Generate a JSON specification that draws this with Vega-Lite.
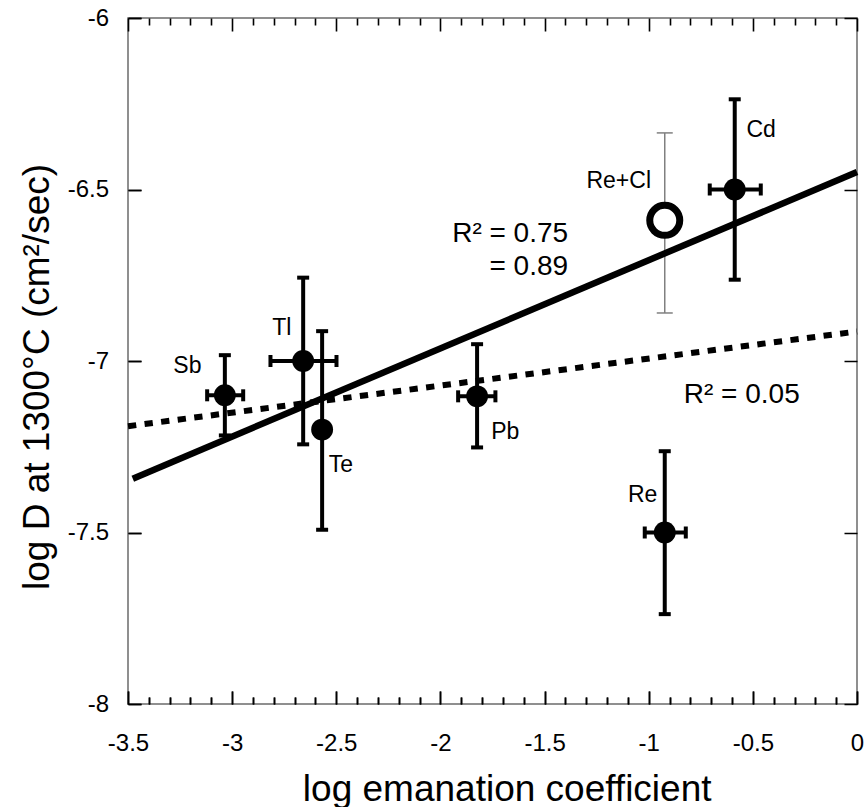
{
  "$schema": "https://vega.github.io/schema/vega-lite/v6.json",
  "width": 729,
  "height": 686,
  "autosize": "none",
  "padding": {"left": 128, "top": 18, "right": 10, "bottom": 103},
  "config": {
    "view": {"stroke": "#6b6b6b", "strokeWidth": 1.5},
    "font": "Liberation Sans"
  },
  "datasets": {
    "points": [
      {"el": "Sb", "x": -3.035, "y": -7.100, "ylo": -7.217, "yhi": -6.983, "xlo": -3.120, "xhi": -2.947},
      {"el": "Tl", "x": -2.659, "y": -7.000, "ylo": -7.243, "yhi": -6.757, "xlo": -2.816, "xhi": -2.499},
      {"el": "Te", "x": -2.568, "y": -7.200, "ylo": -7.492, "yhi": -6.913, "xlo": null, "xhi": null},
      {"el": "Pb", "x": -1.824, "y": -7.103, "ylo": -7.252, "yhi": -6.951, "xlo": -1.915, "xhi": -1.736},
      {"el": "Re", "x": -0.923, "y": -7.500, "ylo": -7.738, "yhi": -7.263, "xlo": -1.019, "xhi": -0.822},
      {"el": "Cd", "x": -0.587, "y": -6.500, "ylo": -6.763, "yhi": -6.237, "xlo": -0.707, "xhi": -0.462}
    ],
    "recl": [
      {"el": "Re+Cl", "x": -0.923, "y": -6.590, "ylo": -6.860, "yhi": -6.335}
    ],
    "fit_all": [
      {"x": -3.477, "y": -7.343},
      {"x": 0.0, "y": -6.449}
    ],
    "fit_dotted": [
      {"x": -3.5, "y": -7.190},
      {"x": 0.0, "y": -6.914}
    ],
    "ptlabels": [
      {"label": "Sb", "x": -3.215, "y": -7.015},
      {"label": "Tl", "x": -2.762, "y": -6.905},
      {"label": "Te", "x": -2.478, "y": -7.304},
      {"label": "Pb", "x": -1.689, "y": -7.208},
      {"label": "Re", "x": -1.029, "y": -7.392},
      {"label": "Cd", "x": -0.460, "y": -6.327},
      {"label": "Re+Cl", "x": -1.144, "y": -6.476}
    ],
    "rlabels": [
      {"label": "R² = 0.75", "x": -1.387, "y": -6.631},
      {"label": "= 0.89", "x": -1.387, "y": -6.725},
      {"label": "R² = 0.05", "x": -0.275, "y": -7.100}
    ]
  },
  "resolve": {"axis": {"x": "independent", "y": "independent"}},
  "layer": [
    {
      "data": {"name": "recl"},
      "mark": {"type": "rule", "color": "#808080", "strokeWidth": 1.5},
      "encoding": {
        "x": {"field": "x", "type": "quantitative", "scale": {"domain": [-3.5, 0], "nice": false, "zero": false}, "axis": null},
        "y": {"field": "ylo", "type": "quantitative", "scale": {"domain": [-8, -6], "nice": false, "zero": false}, "axis": null},
        "y2": {"field": "yhi"}
      }
    },
    {
      "data": {"name": "recl"},
      "mark": {"type": "tick", "orient": "horizontal", "size": 16, "thickness": 1.5, "color": "#808080", "opacity": 1},
      "encoding": {
        "x": {"field": "x", "type": "quantitative", "axis": null},
        "y": {"field": "ylo", "type": "quantitative", "axis": null}
      }
    },
    {
      "data": {"name": "recl"},
      "mark": {"type": "tick", "orient": "horizontal", "size": 16, "thickness": 1.5, "color": "#808080", "opacity": 1},
      "encoding": {
        "x": {"field": "x", "type": "quantitative", "axis": null},
        "y": {"field": "yhi", "type": "quantitative", "axis": null}
      }
    },
    {
      "data": {"name": "fit_dotted"},
      "mark": {"type": "line", "color": "#000000", "strokeWidth": 6, "strokeDash": [8.3, 8.4], "strokeCap": "butt"},
      "encoding": {
        "x": {"field": "x", "type": "quantitative",
          "axis": {"orient": "bottom", "values": [-3.4, -3.3, -3.2, -3.1, -2.9, -2.8, -2.7, -2.6, -2.4, -2.3, -2.2, -2.1, -1.9, -1.8, -1.7, -1.6, -1.4, -1.3, -1.2, -1.1, -0.9, -0.8, -0.7, -0.6, -0.4, -0.3, -0.2, -0.1],
            "domain": false, "labels": false, "title": null,
            "ticks": true, "tickSize": -7, "tickColor": "black", "tickWidth": 1.6,
            "grid": true, "gridColor": "black", "gridWidth": 1.6, "gridOpacity": 1, "gridDash": [7, 672]}},
        "y": {"field": "y", "type": "quantitative", "axis": null}
      }
    },
    {
      "data": {"name": "fit_all"},
      "mark": {"type": "line", "color": "#000000", "strokeWidth": 6.5, "strokeCap": "butt"},
      "encoding": {
        "x": {"field": "x", "type": "quantitative",
          "axis": {"orient": "bottom", "values": [-3.5, -3, -2.5, -2, -1.5, -1, -0.5, 0],
            "domain": false,
            "ticks": true, "tickSize": -13, "tickColor": "black", "tickWidth": 1.6,
            "grid": true, "gridColor": "black", "gridWidth": 1.6, "gridOpacity": 1, "gridDash": [13, 660],
            "labelPadding": 40.5,
            "labelFont": "Liberation Sans", "labelFontSize": 24, "labelColor": "#000000",
            "labelFlush": false, "labelOverlap": false, "labelBound": false,
            "labelExpr": "'' + datum.value",
            "title": "log emanation coefficient", "titleFont": "Liberation Sans", "titleFontSize": 37, "titleFontWeight": "normal", "titleColor": "#000000",
            "titleX": 378.7, "titleY": 96, "titleBaseline": "alphabetic", "titleAlign": "center"}},
        "y": {"field": "y", "type": "quantitative",
          "axis": {"orient": "left", "values": [-8, -7.5, -7, -6.5, -6],
            "domain": false,
            "ticks": true, "tickSize": -13, "tickColor": "black", "tickWidth": 1.6,
            "grid": true, "gridColor": "black", "gridWidth": 1.6, "gridOpacity": 1, "gridDash": [13, 703],
            "labelPadding": 32.5,
            "labelFont": "Liberation Sans", "labelFontSize": 24, "labelColor": "#000000",
            "labelFlush": false, "labelOverlap": false, "labelBound": false,
            "labelExpr": "'' + datum.value",
            "title": "log D at 1300°C (cm²/sec)", "titleFont": "Liberation Sans", "titleFontSize": 37, "titleFontWeight": "normal", "titleColor": "#000000",
            "titleX": -79.7, "titleY": 358.5, "titleAngle": -90, "titleBaseline": "alphabetic", "titleAlign": "center"}}
      }
    },
    {
      "data": {"name": "points"},
      "mark": {"type": "rule", "color": "#000000", "strokeWidth": 4},
      "encoding": {
        "x": {"field": "x", "type": "quantitative", "axis": null},
        "y": {"field": "ylo", "type": "quantitative", "axis": null},
        "y2": {"field": "yhi"}
      }
    },
    {
      "data": {"name": "points"},
      "mark": {"type": "tick", "orient": "horizontal", "size": 12, "thickness": 4, "color": "#000000", "opacity": 1},
      "encoding": {
        "x": {"field": "x", "type": "quantitative", "axis": null},
        "y": {"field": "ylo", "type": "quantitative", "axis": null}
      }
    },
    {
      "data": {"name": "points"},
      "mark": {"type": "tick", "orient": "horizontal", "size": 12, "thickness": 4, "color": "#000000", "opacity": 1},
      "encoding": {
        "x": {"field": "x", "type": "quantitative", "axis": null},
        "y": {"field": "yhi", "type": "quantitative", "axis": null}
      }
    },
    {
      "data": {"name": "points"},
      "transform": [{"filter": "isValid(datum.xlo)"}],
      "mark": {"type": "rule", "color": "#000000", "strokeWidth": 4},
      "encoding": {
        "y": {"field": "y", "type": "quantitative", "axis": null},
        "x": {"field": "xlo", "type": "quantitative", "axis": null},
        "x2": {"field": "xhi"}
      }
    },
    {
      "data": {"name": "points"},
      "transform": [{"filter": "isValid(datum.xlo)"}],
      "mark": {"type": "tick", "orient": "vertical", "size": 12, "thickness": 4, "color": "#000000", "opacity": 1},
      "encoding": {
        "y": {"field": "y", "type": "quantitative", "axis": null},
        "x": {"field": "xlo", "type": "quantitative", "axis": null}
      }
    },
    {
      "data": {"name": "points"},
      "transform": [{"filter": "isValid(datum.xhi)"}],
      "mark": {"type": "tick", "orient": "vertical", "size": 12, "thickness": 4, "color": "#000000", "opacity": 1},
      "encoding": {
        "y": {"field": "y", "type": "quantitative", "axis": null},
        "x": {"field": "xhi", "type": "quantitative", "axis": null}
      }
    },
    {
      "data": {"name": "points"},
      "mark": {"type": "circle", "size": 480, "color": "#000000", "opacity": 1},
      "encoding": {
        "x": {"field": "x", "type": "quantitative", "axis": null},
        "y": {"field": "y", "type": "quantitative", "axis": null}
      }
    },
    {
      "data": {"name": "recl"},
      "mark": {"type": "point", "shape": "circle", "size": 900, "filled": true, "fill": "#ffffff", "stroke": "#000000", "strokeWidth": 7, "opacity": 1},
      "encoding": {
        "x": {"field": "x", "type": "quantitative", "axis": null},
        "y": {"field": "y", "type": "quantitative", "axis": null}
      }
    },
    {
      "data": {"name": "ptlabels"},
      "mark": {"type": "text", "font": "Liberation Sans", "fontSize": 23, "color": "#000000", "align": "center", "baseline": "middle"},
      "encoding": {
        "x": {"field": "x", "type": "quantitative", "axis": null},
        "y": {"field": "y", "type": "quantitative", "axis": null},
        "text": {"field": "label"}
      }
    },
    {
      "data": {"name": "rlabels"},
      "mark": {"type": "text", "font": "Liberation Sans", "fontSize": 28, "color": "#000000", "align": "right", "baseline": "middle"},
      "encoding": {
        "x": {"field": "x", "type": "quantitative", "axis": null},
        "y": {"field": "y", "type": "quantitative", "axis": null},
        "text": {"field": "label"}
      }
    }
  ]
}
